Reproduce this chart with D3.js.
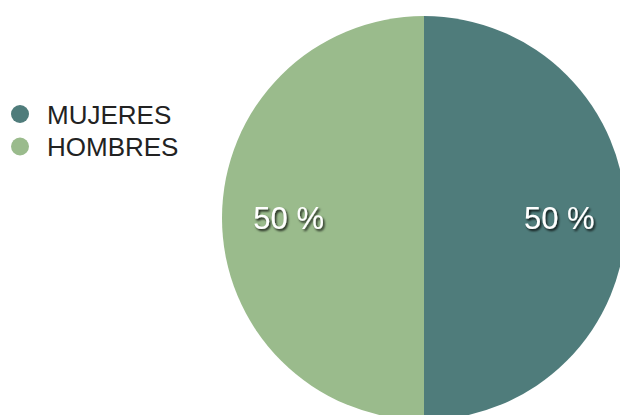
<!DOCTYPE html>
<html>
<head>
<meta charset="utf-8">
<script src="https://cdn.jsdelivr.net/npm/d3@7"></script>
<style>
  html, body { margin: 0; padding: 0; background: #fff; }
  svg { display: block; }
</style>
</head>
<body>
<div id="chart"></div>
<script>
// Data
const categories = ["MUJERES", "HOMBRES"];
const values = [50, 50];
const colors = ["#4f7c7b", "#9abb8c"];

const width = 620, height = 415;

const svg = d3.select("#chart").append("svg")
    .attr("width", width)
    .attr("height", height);

// drop shadow for slice labels
const filter = svg.append("defs").append("filter")
    .attr("id", "shadow")
    .attr("x", "-20%").attr("y", "-20%")
    .attr("width", "140%").attr("height", "140%");
filter.append("feDropShadow")
    .attr("dx", 1.5).attr("dy", 2)
    .attr("stdDeviation", 1.3)
    .attr("flood-color", "#000")
    .attr("flood-opacity", 0.85);

const data = categories.map((c, i) => ({ name: c, value: values[i], color: colors[i] }));

// Pie
const cx = 424, cy = 218, radius = 202;

const pie = d3.pie().sort(null).value(d => d.value);
const arc = d3.arc().innerRadius(0).outerRadius(radius);
const labelArc = d3.arc().innerRadius(radius * 0.67).outerRadius(radius * 0.67);

const g = svg.append("g").attr("transform", `translate(${cx},${cy})`);

const arcs = pie(data);

g.selectAll(".slice")
    .data(arcs)
    .enter().append("path")
    .attr("class", "slice")
    .attr("d", arc)
    .attr("fill", d => d.data.color);

g.selectAll(".slice-label")
    .data(arcs)
    .enter().append("text")
    .attr("class", "slice-label")
    .attr("x", d => labelArc.centroid(d)[0])
    .attr("y", d => labelArc.centroid(d)[1])
    .attr("dy", "0.37em")
    .attr("text-anchor", "middle")
    .attr("filter", "url(#shadow)")
    .style("font-family", "'Liberation Sans', Arial, sans-serif")
    .style("font-size", "31px")
    .style("fill", "#fff")
    .text(d => `${d.data.value} %`);

// Legend
const legend = svg.append("g").attr("transform", "translate(20,114)");

const item = legend.selectAll(".legend-item")
    .data(data)
    .enter().append("g")
    .attr("class", "legend-item")
    .attr("transform", (d, i) => `translate(0,${i * 32.5})`);

item.append("circle")
    .attr("r", 9)
    .attr("fill", d => d.color);

item.append("text")
    .attr("x", 27)
    .attr("y", 9.5)
    .style("font-family", "'Liberation Sans', Arial, sans-serif")
    .style("font-size", "26px")
    .style("fill", "#222")
    .text(d => d.name);
</script>
</body>
</html>
